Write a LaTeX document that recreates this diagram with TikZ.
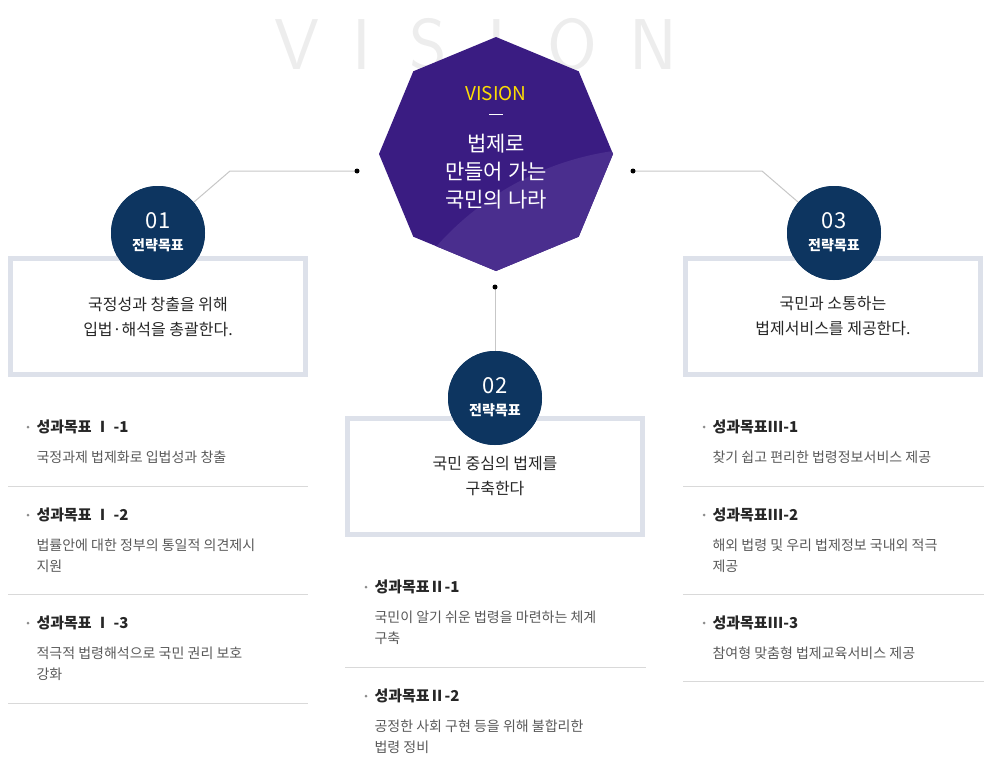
\documentclass[tikz,border=0pt]{standalone}
\usepackage{fontspec}
\setmainfont{Noto Sans CJK KR}
\newfontfamily\kb{Noto Sans CJK KR}[BoldFont=* Bold]
\begin{document}
\begin{tikzpicture}[x=1pt,y=-1pt,
  goalc/.style={circle,fill=navy,minimum size=94pt,inner sep=0pt,text=white,align=center,font=\bfseries},
  gbox/.style={draw=boxc,line width=5pt,minimum width=295pt,minimum height=116pt,align=center,font=\fontsize{16}{25}\selectfont,text=black!85},
  ttl/.style={anchor=west,font=\fontsize{15}{18}\selectfont\bfseries,text=black!85},
  dsc/.style={anchor=north west,align=left,font=\fontsize{14}{21}\selectfont,text=black!65},
  sep/.style={draw=black!15,line width=0.8pt},
  cl/.style={draw=black!22,line width=1pt},
  bg/.style={font=\fontsize{72}{72}\selectfont\sffamily,text=black!7}]
\definecolor{navy}{HTML}{0D3560}
\definecolor{boxc}{HTML}{DDE1EA}
\definecolor{vio}{HTML}{3A1C82}
\definecolor{vio2}{HTML}{4A2E8E}
\useasboundingbox (0,0) rectangle (1004,773);
% background letters
\foreach \l/\x in {V/297,I/362,S/428,I/497,O/572,N/653}
  \node[bg] at (\x,45) {\l};
% connectors
\coordinate (ld) at (357,171); \coordinate (rd) at (633,171); \coordinate (bd) at (495,287);
\coordinate (lk) at (230,171); \coordinate (rk) at (762,171);
\node[goalc] (c1) at (158,233) {};
\node[goalc] (c2) at (495,398) {};
\node[goalc] (c3) at (834,233) {};
\draw[cl] (ld) -- (lk) -- (c1);
\draw[cl] (rd) -- (rk) -- (c3);
\draw[cl] (bd) -- (c2);
\fill (ld) circle (2.5); \fill (rd) circle (2.5); \fill (bd) circle (2.5);
% octagon
\begin{scope}
\path[clip] (496,37) -- (578.7,71.3) -- (613,154) -- (578.7,236.7) -- (496,271) -- (413.3,236.7) -- (379,154) -- (413.3,71.3) -- cycle;
\fill[vio] (370,30) rectangle (620,280);
\fill[vio2] (655,440) circle (292);
\end{scope}
\node (oct) at (496,154) {};
\node[text=yellow!80!orange,font=\fontsize{19}{20}\selectfont] (vt) at (496,94) {VISION};
\draw[white,line width=0.8pt] (489,114) -- (503,114);
\node[text=white,align=center,font=\fontsize{21}{28}\selectfont] (vm) at (496,172) {법제로\\만들어 가는\\국민의 나라};
% circles text
\foreach \n/\c in {01/c1,02/c2,03/c3}{
  \node[text=white,font=\fontsize{14}{16}\selectfont\bfseries] at ([yshift=-12]\c) {전략목표};
  \node[text=white,font=\fontsize{22}{24}\selectfont] at ([yshift=12]\c) {\n};
}
% boxes (behind circles? circles overlap top border)
\begin{scope}[on background layer/.style={}]
\end{scope}
\node[gbox] (b1) at (158,316.5) {국정성과 창출을 위해\\입법·해석을 총괄한다.};
\node[gbox] (b2) at (495,476.5) {국민 중심의 법제를\\구축한다};
\node[gbox] (b3) at (833,316.5) {국민과 소통하는\\법제서비스를 제공한다.};
% redraw circles over box borders
\foreach \n/\c/\p in {01/c1/{(158,233)},02/c2/{(495,398)},03/c3/{(834,233)}}{
  \fill[navy] \p circle (47);
  \node[text=white,font=\fontsize{14}{16}\selectfont\bfseries] at ([yshift=-12]\c) {전략목표};
  \node[text=white,font=\fontsize{22}{24}\selectfont] at ([yshift=12]\c) {\n};
}
% lists
\newcommand\itm[5]{% x, ytitle, title, desc, name
  \fill[black!45] (#1-9,#2) circle (1.5);
  \node[ttl] (#5t) at (#1-4,#2) {#3};
  \node[dsc] (#5d) at (#1-4,#2+20) {#4};}
\itm{37}{427}{성과목표 Ⅰ -1}{국정과제 법제화로 입법성과 창출}{a1}
\itm{37}{515}{성과목표 Ⅰ -2}{법률안에 대한 정부의 통일적 의견제시\\지원}{a2}
\itm{37}{623}{성과목표 Ⅰ -3}{적극적 법령해석으로 국민 권리 보호\\강화}{a3}
\draw[sep] (8,486) -- (308,486); \draw[sep] (8,594) -- (308,594); \draw[sep] (8,703) -- (308,703);
\itm{375}{587}{성과목표Ⅱ-1}{국민이 알기 쉬운 법령을 마련하는 체계\\구축}{m1}
\itm{375}{696}{성과목표Ⅱ-2}{공정한 사회 구현 등을 위해 불합리한\\법령 정비}{m2}
\draw[sep] (345,667) -- (646,667);
\itm{713}{427}{성과목표III-1}{찾기 쉽고 편리한 법령정보서비스 제공}{r1}
\itm{713}{515}{성과목표III-2}{해외 법령 및 우리 법제정보 국내외 적극\\제공}{r2}
\itm{713}{623}{성과목표III-3}{참여형 맞춤형 법제교육서비스 제공}{r3}
\draw[sep] (683,486) -- (984,486); \draw[sep] (683,594) -- (984,594); \draw[sep] (683,681) -- (984,681);
\end{tikzpicture}
\end{document}
